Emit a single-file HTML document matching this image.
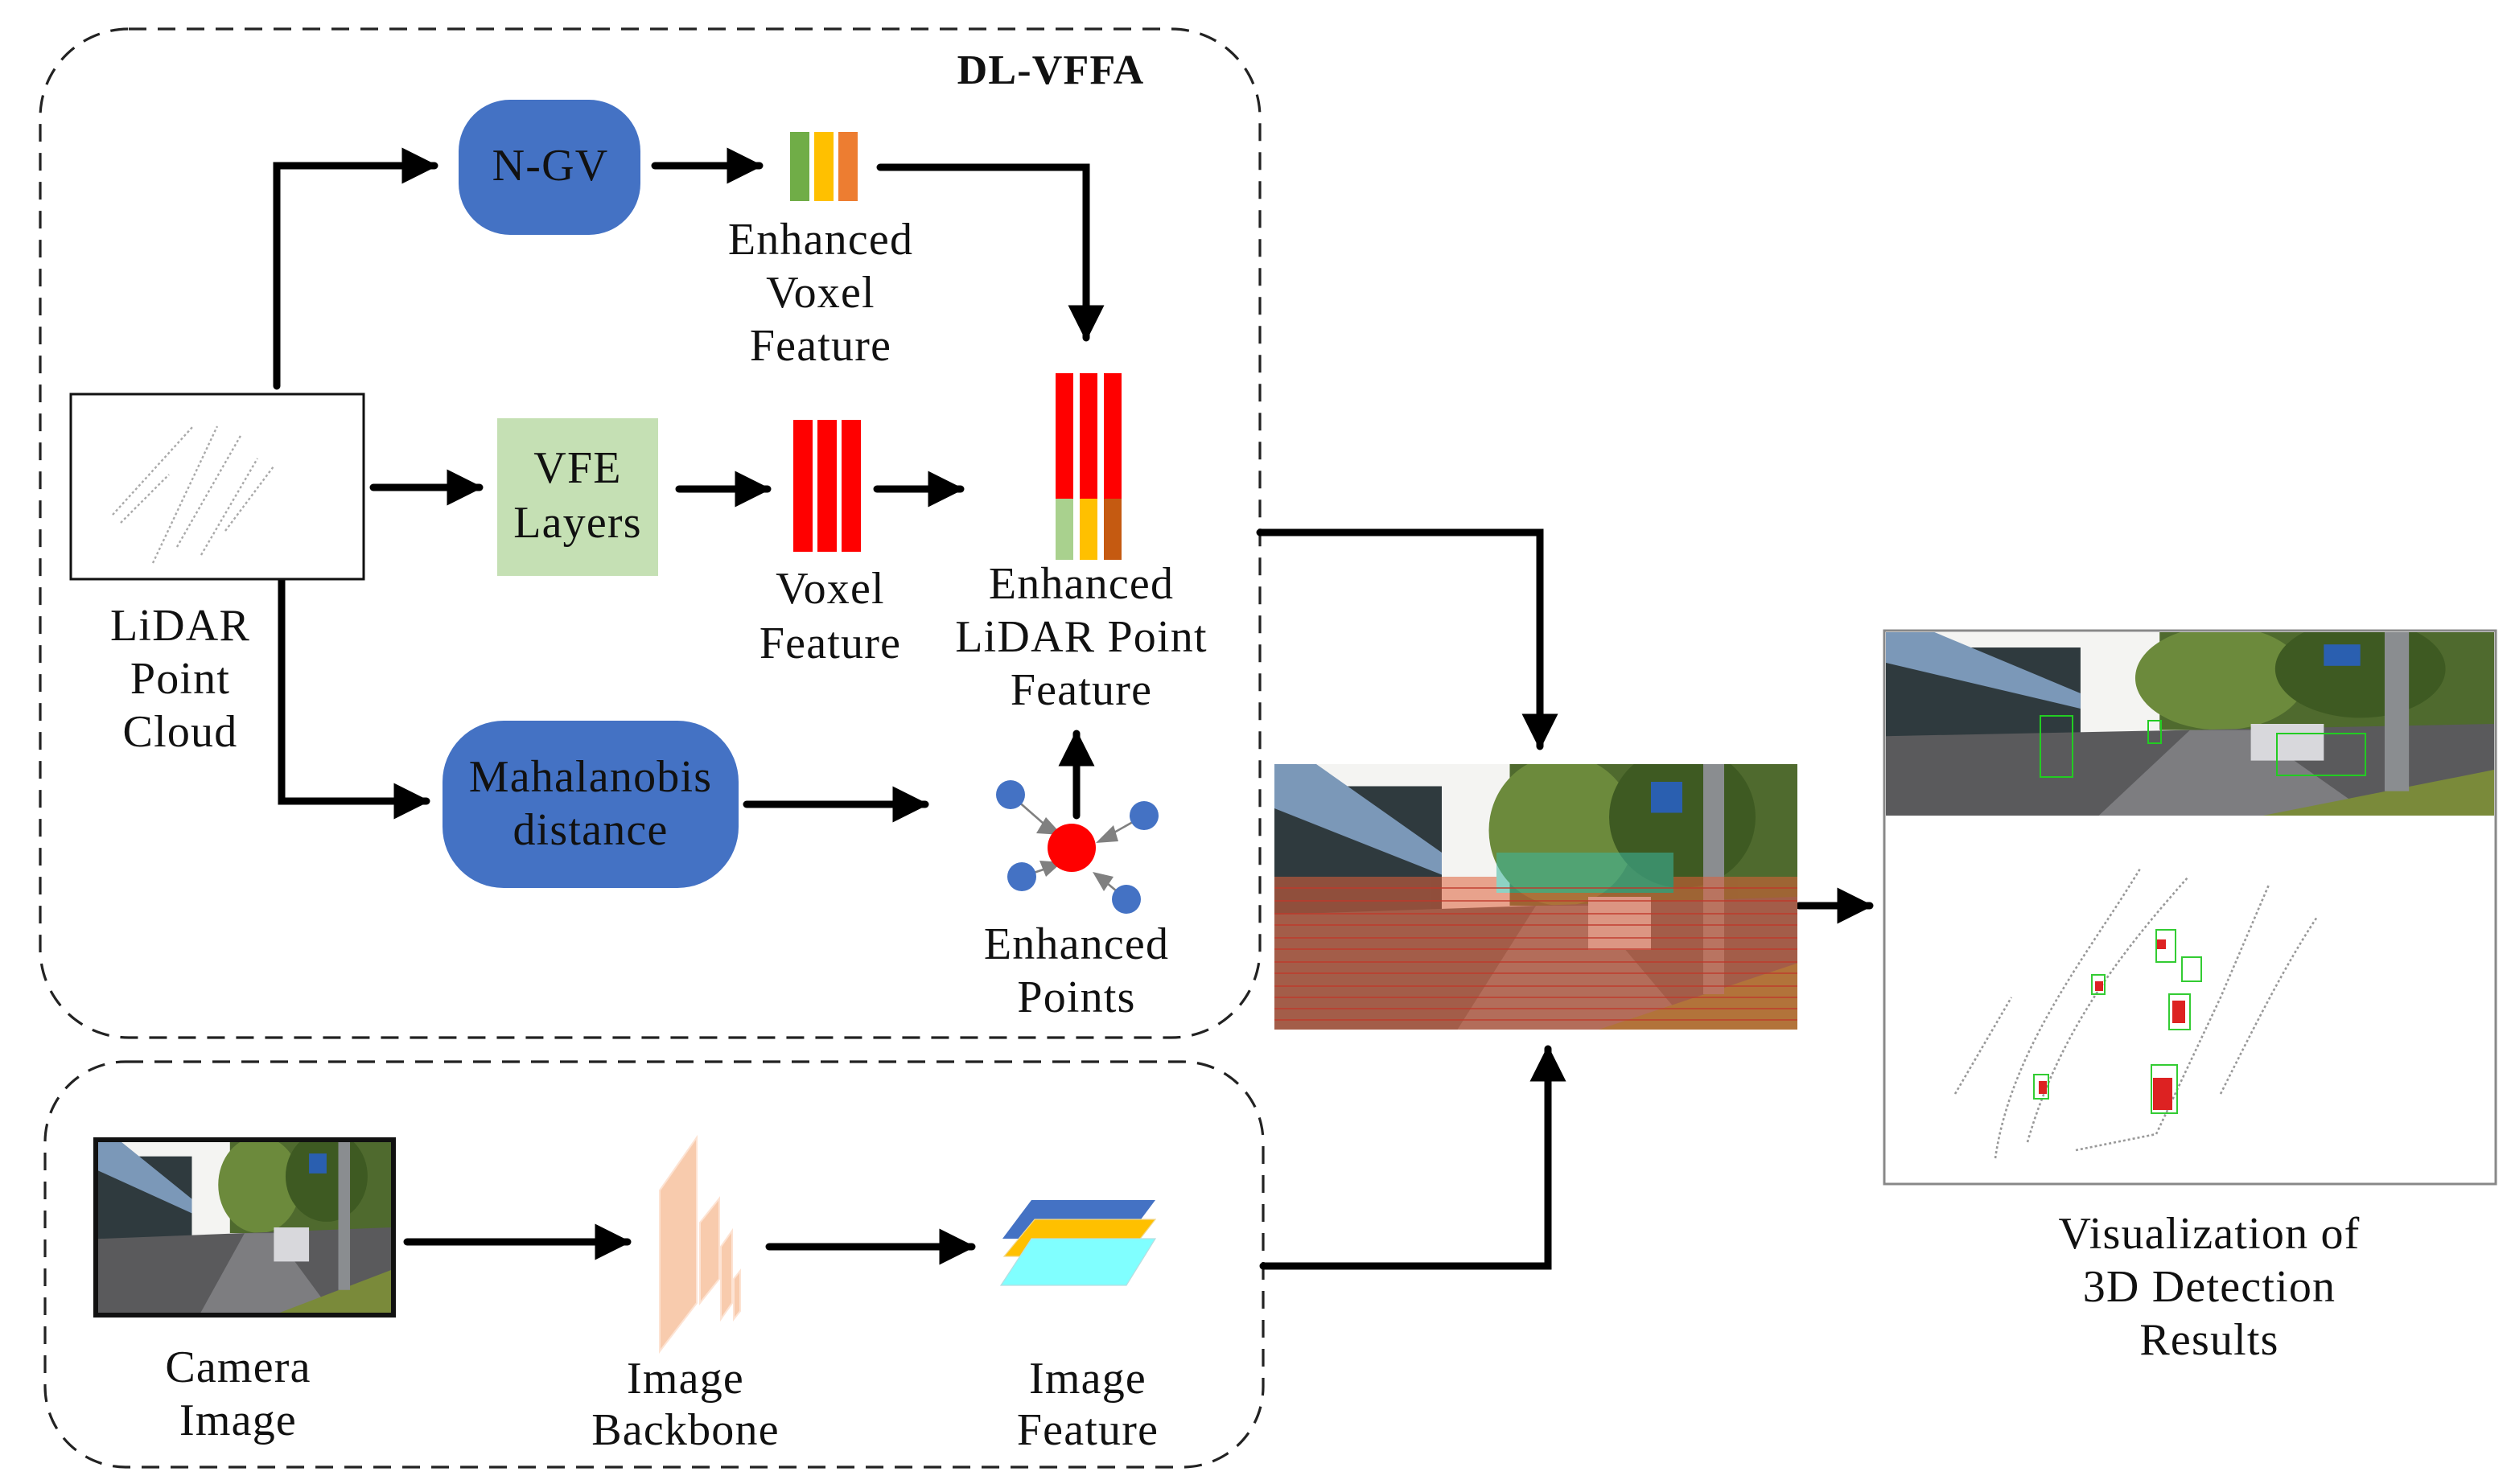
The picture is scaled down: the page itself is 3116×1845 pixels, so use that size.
<!DOCTYPE html>
<html><head><meta charset="utf-8"><style>
html,body{margin:0;padding:0;background:#fff;}
svg{display:block;}
text{font-family:"Liberation Serif","DejaVu Serif",serif;font-size:28px;letter-spacing:0.6px;fill:#111;text-anchor:middle;}
</style></head><body>
<svg width="3116" height="1845" viewBox="0 0 1558 922.5" xmlns="http://www.w3.org/2000/svg">
<defs>
<marker id="ah" viewBox="0 0 10 10" refX="9" refY="5" markerWidth="5.5" markerHeight="5" markerUnits="strokeWidth" orient="auto">
<path d="M0,0 L10,5 L0,10 z" fill="#000"/></marker>
<symbol id="scene" viewBox="0 0 100 60" preserveAspectRatio="none">
<rect x="0" y="0" width="100" height="60" fill="#f4f4f2"/>
<rect x="45" y="0" width="55" height="32" fill="#4f6a2e"/>
<ellipse cx="55" cy="15" rx="14" ry="17" fill="#6c8a3c"/>
<ellipse cx="78" cy="12" rx="14" ry="16" fill="#3e5a22"/>
<rect x="0" y="5" width="32" height="50" fill="#2f3a3e"/>
<polygon points="0,0 8,0 32,20 32,25 0,10" fill="#7b98b8"/>
<polygon points="0,34 100,30 100,60 0,60" fill="#5a5a5c"/>
<polygon points="35,60 50,32 60,32 80,60" fill="#7d7d80"/>
<polygon points="62,60 100,45 100,60" fill="#7a8a3a"/>
<rect x="60" y="30" width="12" height="12" fill="#d8d8dc"/>
<rect x="82" y="0" width="4" height="52" fill="#8a8d90"/>
<rect x="72" y="4" width="6" height="7" fill="#2a5fb0"/>
</symbol>
</defs>

<rect x="25" y="18" width="758" height="627" rx="55" fill="none" stroke="#222" stroke-width="1.6" stroke-dasharray="11,7"/>
<rect x="28" y="660" width="757" height="252" rx="50" fill="none" stroke="#222" stroke-width="1.6" stroke-dasharray="11,7"/>
<text x="653" y="52" style="font-weight:bold;font-size:26px">DL-VFFA</text>

<g stroke="#000" stroke-width="4.5" fill="none" stroke-linecap="round">
<polyline points="172,240 172,103 270,103" marker-end="url(#ah)"/>
<line x1="407" y1="103" x2="472" y2="103" marker-end="url(#ah)"/>
<polyline points="547,104 675,104 675,210" marker-end="url(#ah)"/>
<line x1="232" y1="303" x2="298" y2="303" marker-end="url(#ah)"/>
<line x1="422" y1="304" x2="477" y2="304" marker-end="url(#ah)"/>
<line x1="545" y1="304" x2="597" y2="304" marker-end="url(#ah)"/>
<polyline points="175,360 175,498 265,498" marker-end="url(#ah)"/>
<line x1="464" y1="500" x2="575" y2="500" marker-end="url(#ah)"/>
<line x1="669" y1="507" x2="669" y2="456" marker-end="url(#ah)"/>
<polyline points="783,331 957,331 957,464" marker-end="url(#ah)"/>
<line x1="1118" y1="563" x2="1162" y2="563" marker-end="url(#ah)"/>
<line x1="253" y1="772" x2="390" y2="772" marker-end="url(#ah)"/>
<line x1="478" y1="775" x2="604" y2="775" marker-end="url(#ah)"/>
<polyline points="785,787 962,787 962,652" marker-end="url(#ah)"/>
</g>

<rect x="285" y="62" width="113" height="84" rx="32" fill="#4472c4"/>
<text x="342" y="112">N-GV</text>
<rect x="491" y="82" width="12" height="43" fill="#70ad47"/>
<rect x="506" y="82" width="12" height="43" fill="#ffc000"/>
<rect x="521" y="82" width="12" height="43" fill="#ed7d31"/>
<text x="510" y="158">Enhanced</text><text x="510" y="191">Voxel</text><text x="510" y="224">Feature</text>

<rect x="44" y="245" width="182" height="115" fill="#fff" stroke="#111" stroke-width="1.5"/>
<g stroke="#aaa" stroke-width="1.2" stroke-dasharray="1.5,1.5">
<line x1="70" y1="320" x2="120" y2="265"/><line x1="95" y1="350" x2="135" y2="265"/>
<line x1="110" y1="340" x2="150" y2="270"/><line x1="125" y1="345" x2="160" y2="285"/>
<line x1="75" y1="325" x2="105" y2="295"/><line x1="140" y1="330" x2="170" y2="290"/>
</g>
<text x="112" y="398">LiDAR</text><text x="112" y="431">Point</text><text x="112" y="464">Cloud</text>

<rect x="309" y="260" width="100" height="98" fill="#c5e0b4"/>
<text x="359" y="300">VFE</text><text x="359" y="334">Layers</text>
<rect x="493" y="261" width="12" height="82" fill="#ff0000"/>
<rect x="508" y="261" width="12" height="82" fill="#ff0000"/>
<rect x="523" y="261" width="12" height="82" fill="#ff0000"/>
<text x="516" y="375">Voxel</text><text x="516" y="409">Feature</text>
<rect x="656" y="232" width="11" height="78" fill="#ff0000"/>
<rect x="671" y="232" width="11" height="78" fill="#ff0000"/>
<rect x="686" y="232" width="11" height="78" fill="#ff0000"/>
<rect x="656" y="310" width="11" height="38" fill="#a9d18e"/>
<rect x="671" y="310" width="11" height="38" fill="#ffc000"/>
<rect x="686" y="310" width="11" height="38" fill="#c55a11"/>
<text x="672" y="372">Enhanced</text><text x="672" y="405">LiDAR Point</text><text x="672" y="438">Feature</text>

<rect x="275" y="448" width="184" height="104" rx="38" fill="#4472c4"/>
<text x="367" y="492">Mahalanobis</text><text x="367" y="525">distance</text>

<g fill="#808080">
<line x1="628" y1="494" x2="652" y2="515" stroke="#808080" stroke-width="1.3"/>
<polygon points="660,519 644,518 650,508"/>
<line x1="711" y1="507" x2="688" y2="520" stroke="#808080" stroke-width="1.3"/>
<polygon points="681,524 692,513 695,523"/>
<line x1="635" y1="545" x2="650" y2="540" stroke="#808080" stroke-width="1.3"/>
<polygon points="660,536 650,545 646,535"/>
<line x1="700" y1="559" x2="688" y2="549" stroke="#808080" stroke-width="1.3"/>
<polygon points="679,542 692,545 686,554"/>
</g>
<circle cx="666" cy="527" r="15" fill="#ff0000"/>
<circle cx="628" cy="494" r="9" fill="#4472c4"/>
<circle cx="711" cy="507" r="9" fill="#4472c4"/>
<circle cx="635" cy="545" r="9" fill="#4472c4"/>
<circle cx="700" cy="559" r="9" fill="#4472c4"/>
<text x="669" y="596">Enhanced</text><text x="669" y="629">Points</text>

<use href="#scene" x="792" y="475" width="325" height="165"/>
<g opacity="0.55">
<rect x="792" y="545" width="325" height="95" fill="#e0603a"/>
<rect x="930" y="530" width="110" height="25" fill="#3cb8a0"/>
</g>
<g stroke="#c0392b" stroke-width="1" opacity="0.7">
<line x1="792" y1="552" x2="1117" y2="552"/><line x1="792" y1="560" x2="1117" y2="560"/><line x1="792" y1="568" x2="1117" y2="568"/><line x1="792" y1="575" x2="1117" y2="575"/>
<line x1="792" y1="583" x2="1117" y2="583"/><line x1="792" y1="590" x2="1117" y2="590"/><line x1="792" y1="598" x2="1117" y2="598"/><line x1="792" y1="605" x2="1117" y2="605"/>
<line x1="792" y1="613" x2="1117" y2="613"/><line x1="792" y1="620" x2="1117" y2="620"/><line x1="792" y1="627" x2="1117" y2="627"/><line x1="792" y1="634" x2="1117" y2="634"/>
</g>

<rect x="1171" y="392" width="380" height="344" fill="#fff" stroke="#888" stroke-width="1.5"/>
<use href="#scene" x="1172" y="393" width="378" height="114"/>
<g fill="none" stroke="#22cc22" stroke-width="1">
<rect x="1268" y="445" width="20" height="38"/><rect x="1415" y="456" width="55" height="26"/><rect x="1335" y="448" width="8" height="14"/>
</g>
<g stroke="#999" stroke-width="1.3" stroke-dasharray="1.5,1.5" fill="none">
<path d="M1240,720 C1250,650 1300,590 1330,540"/>
<path d="M1260,710 C1280,640 1320,590 1360,545"/>
<path d="M1290,715 L1340,705 L1380,620 L1410,550"/>
<path d="M1215,680 L1250,620"/>
<path d="M1380,680 C1400,640 1420,600 1440,570"/>
</g>
<g fill="#dd2222">
<rect x="1338" y="670" width="12" height="20"/><rect x="1350" y="622" width="8" height="14"/>
<rect x="1267" y="672" width="5" height="8"/><rect x="1302" y="610" width="5" height="6"/><rect x="1340" y="584" width="6" height="6"/>
</g>
<g fill="none" stroke="#33cc33" stroke-width="1">
<rect x="1337" y="662" width="16" height="30"/><rect x="1348" y="618" width="13" height="22"/>
<rect x="1340" y="578" width="12" height="20"/><rect x="1356" y="595" width="12" height="15"/>
<rect x="1300" y="606" width="8" height="12"/><rect x="1264" y="668" width="9" height="15"/>
</g>
<text x="1373" y="776">Visualization of</text><text x="1373" y="809">3D  Detection</text><text x="1373" y="842">Results</text>

<rect x="58" y="707" width="188" height="112" fill="#111"/>
<use href="#scene" x="61" y="710" width="182" height="106"/>
<text x="148" y="859">Camera</text><text x="148" y="892">Image</text>

<g fill="#f8cbad" stroke="#fde3d3" stroke-width="1">
<polygon points="410,740 433,707 433,810 410,840"/>
<polygon points="435,760 447,745 447,795 435,810"/>
<polygon points="448,775 455,765 455,810 448,820"/>
<polygon points="456,795 460,790 460,815 456,820"/>
</g>
<text x="426" y="866">Image</text><text x="426" y="898">Backbone</text>

<polygon points="641,746 718,746 700,770 623,770" fill="#4472c4"/>
<polygon points="643,758 718,758 700,781 624,781" fill="#ffc000" stroke="#f0d890" stroke-width="0.6"/>
<polygon points="641,770 718,770 700,799 622,799" fill="#80ffff" stroke="#b8dde0" stroke-width="0.6"/>
<text x="676" y="866">Image</text><text x="676" y="898">Feature</text>
</svg>
</body></html>
